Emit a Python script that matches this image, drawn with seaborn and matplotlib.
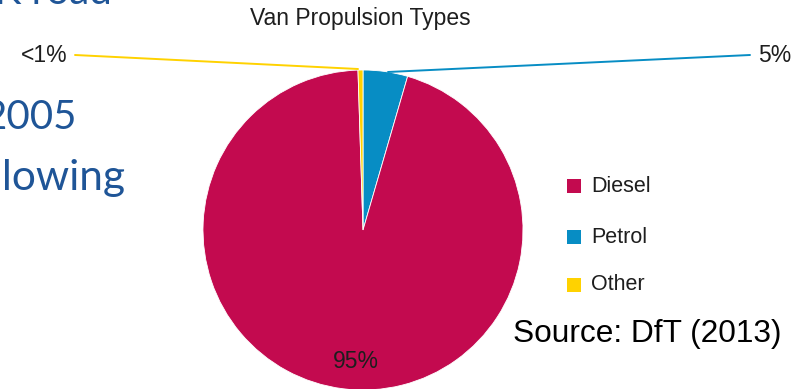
import numpy as np
import matplotlib
matplotlib.use("Agg")
import matplotlib.pyplot as plt
import seaborn as sns

categories = ["Petrol", "Diesel", "Other"]
values = [4.5, 95.0, 0.5]
pct_labels = ["5%", "95%", "<1%"]
legend_order = ["Diesel", "Petrol", "Other"]
title = "Van Propulsion Types"
source = "Source: DfT (2013)"
slide_text = ["UK road", "2005", "following"]

colors = {"Diesel": "#C30A4F", "Petrol": "#078DC4", "Other": "#FFD200"}

sns.set_theme(style="white")
plt.rcParams['font.family'] = ['Liberation Sans', 'DejaVu Sans']

W, H = 810, 389
fig = plt.figure(figsize=(W / 100, H / 100), dpi=100)
ax = fig.add_axes([0, 0, 1, 1])

cx, cy, r = 363, H - 230, 160
wedges, _ = ax.pie(values, colors=[colors[c] for c in categories], startangle=90,
                   counterclock=False, center=(cx, cy), radius=r,
                   wedgeprops=dict(linewidth=0.6, edgecolor='white'), frame=True)
ax.set_xlim(0, W)
ax.set_ylim(0, H)
ax.set_aspect('equal')
ax.axis('off')

dark = '#1e1e1e'
lab_fs = 16.5

# Petrol leader
ax.plot([388, 750], [H - 72, H - 55], color=colors["Petrol"], lw=1.4)
ax.text(758, H - 55, pct_labels[0], ha='left', va='center', fontsize=lab_fs, color=dark)
# Other leader
ax.plot([358, 75], [H - 69, H - 55], color=colors["Other"], lw=1.4)
ax.text(68, H - 55, pct_labels[2], ha='right', va='center', fontsize=lab_fs, color=dark)
# Diesel label
ax.text(356, H - 361, pct_labels[1], ha='center', va='center', fontsize=lab_fs, color=dark)

ax.text(360, H - 18, title, ha='center', va='center', fontsize=16.5, color=dark)

# legend
leg_y = [186, 237, 285]
for name, yy in zip(legend_order, leg_y):
    y = H - yy
    ax.add_patch(plt.Rectangle((567, y - 7), 14, 14, color=colors[name], lw=0))
    ax.text(591, y, name, ha='left', va='center', fontsize=15.5, color=dark)

ax.text(513, H - 334, source, ha='left', va='center', fontsize=22.8, color='black')

# slide text fragments on the left (cut off by the screenshot edge)
blue = '#1F5597'
ax.text(112, H - 4, slide_text[0], ha='right', va='baseline', fontsize=29, color=blue, family='Lato')
ax.text(77, H - 129, slide_text[1], ha='right', va='baseline', fontsize=29, color=blue, family='Lato')
ax.text(125, H - 190, slide_text[2], ha='right', va='baseline', fontsize=30.5, color=blue, family='Lato')

fig.savefig("out.png", dpi=100)
